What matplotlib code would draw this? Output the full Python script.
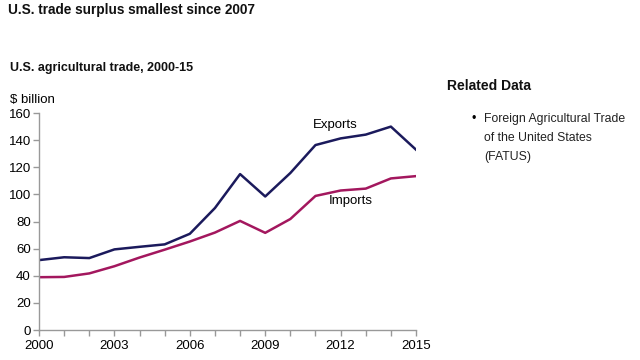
import matplotlib
matplotlib.use('Agg')
import matplotlib.pyplot as plt
import numpy as np

plt.rcParams['font.family'] = ['Liberation Sans', 'DejaVu Sans']

#-- dati
years = [2000, 2001, 2002, 2003, 2004, 2005, 2006, 2007,
         2008, 2009, 2010, 2011, 2012, 2013, 2014, 2015]
exports = [51.6, 53.7, 53.1, 59.5, 61.4, 63.2, 71.0, 90.0,
           115.0, 98.5, 115.8, 136.4, 141.3, 144.1, 150.0, 133.0]
imports = [39.0, 39.2, 41.8, 47.1, 53.5, 59.3, 65.3, 71.9,
           80.5, 71.7, 81.9, 98.9, 102.9, 104.3, 111.8, 113.5]
y_ticks = [0, 20, 40, 60, 80, 100, 120, 140, 160]
x_ticks = [2000, 2003, 2006, 2009, 2012, 2015]
#--

fig = plt.figure(figsize=(6.4, 3.6), dpi=100)
ax = fig.add_axes([0.061, 0.083, 0.589, 0.603])

col_exp = '#1b1a5c'
col_imp = '#a3175e'
ax.plot(years, exports, color=col_exp, linewidth=1.8)
ax.plot(years, imports, color=col_imp, linewidth=1.8)

#-- formattazione assi
ax.set_xlim(2000, 2015)
ax.set_ylim(0, 160)
ax.set_yticks(y_ticks)
ax.set_xticks(years, minor=False)
ax.set_xticklabels([str(y) if y in x_ticks else '' for y in years])
for s in ['top', 'right']:
    ax.spines[s].set_visible(False)
for s in ['left', 'bottom']:
    ax.spines[s].set_color('#999999')
    ax.spines[s].set_linewidth(1.0)
ax.tick_params(axis='both', colors='#999999', labelcolor='black',
               labelsize=9.5, length=4, width=1.0, direction='out')
ax.tick_params(axis='x', pad=3)
ax.tick_params(axis='y', pad=2)
#--

#-- etichette serie
ax.text(2011.8, 151, 'Exports', fontsize=9.5, ha='center', va='center')
ax.text(2012.4, 95, 'Imports', fontsize=9.5, ha='center', va='center')
#--

#-- testi
fig.text(8/640, 1 - 10/360, 'U.S. trade surplus smallest since 2007',
         fontsize=9.8, fontweight='bold', va='center', color='#111111')
fig.text(10/640, 1 - 68/360, 'U.S. agricultural trade, 2000-15',
         fontsize=9, fontweight='bold', va='center', color='#111111')
fig.text(10/640, 1 - 100/360, '$ billion', fontsize=9.5, va='center')
fig.text(447/640, 1 - 86/360, 'Related Data', fontsize=10,
         fontweight='bold', va='center', color='#111111')
fig.text(472/640, 1 - 119/360, '\u2022', fontsize=9, va='center')
for i, line in enumerate(['Foreign Agricultural Trade',
                          'of the United States', '(FATUS)']):
    fig.text(484/640, 1 - (119 + 19 * i)/360, line, fontsize=8.8,
             va='center', color='#222222')
#--

fig.savefig('out.png', dpi=100)
